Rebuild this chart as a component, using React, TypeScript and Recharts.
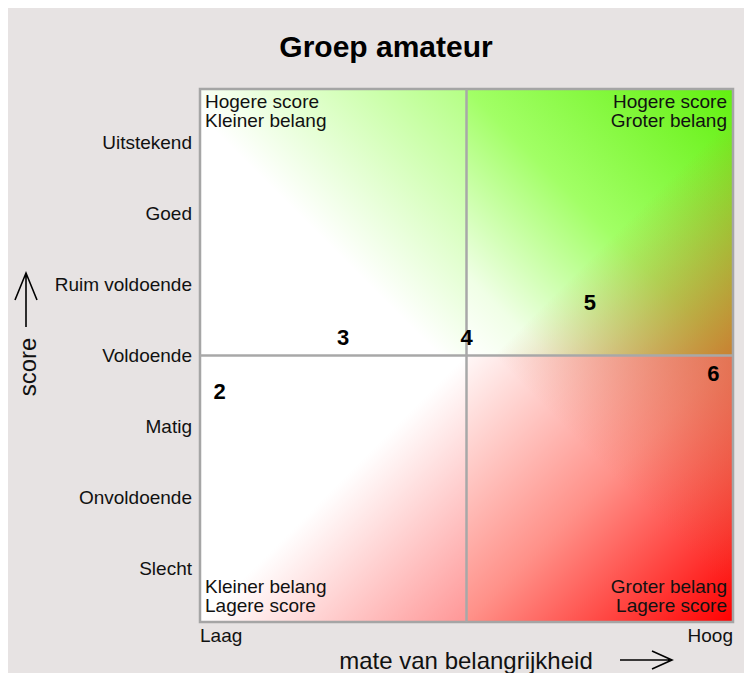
import React from 'react';
import {
  ScatterChart, Scatter, XAxis, YAxis, ReferenceArea, ReferenceLine,
} from 'recharts';

const FONT = '"Liberation Sans", Arial, Helvetica, sans-serif';

// data
const pointLabels = ['2', '3', '4', '5', '6'];
const importance = [2, 3, 4, 5, 6];
const score = [3.5, 4.25, 4.25, 4.75, 3.75];

const scoreTicks = [1, 2, 3, 4, 5, 6, 7];
const scoreLabels = ['Slecht', 'Onvoldoende', 'Matig', 'Voldoende', 'Ruim voldoende', 'Goed', 'Uitstekend'];

const importanceTicks = [1.84, 6.16];
const importanceLabels = ['Laag', 'Hoog'];

const xDomain = [1.84, 6.16];
const yDomain = [0.25, 7.75];
const xMid = 4;
const yMid = 4;

const textTL = ['Hogere score', 'Kleiner belang'];
const textTR = ['Hogere score', 'Groter belang'];
const textBL = ['Kleiner belang', 'Lagere score'];
const textBR = ['Groter belang', 'Lagere score'];

const data = importance.map((x, i) => ({ x, y: score[i], label: pointLabels[i] }));

function QuadLabel({ viewBox, lines, corner }: any) {
  if (!viewBox) return null;
  const { x, y, width, height } = viewBox;
  const right = corner.endsWith('r');
  const top = corner.startsWith('t');
  const tx = right ? x + width - 6 : x + 5;
  const y0 = top ? y + 19 : y + height - 29;
  return (
    <text textAnchor={right ? 'end' : 'start'} fontSize={19} fill="#111" fontFamily={FONT}>
      {lines.map((l: string, i: number) => (
        <tspan key={i} x={tx} y={y0 + i * 19}>{l}</tspan>
      ))}
    </text>
  );
}

function NumberMark({ cx, cy, payload }: any) {
  return (
    <text x={cx} y={cy} textAnchor="middle" dominantBaseline="central"
      fontSize={22} fontWeight="bold" fill="#000" fontFamily={FONT}>
      {payload.label}
    </text>
  );
}

function XTick({ x, y, payload, index }: any) {
  const i = importanceTicks.indexOf(payload.value);
  return (
    <text x={x} y={y - 1} dy="0.71em" textAnchor={index === 0 ? 'start' : 'end'}
      fontSize={19} fill="#111" fontFamily={FONT}>
      {importanceLabels[i]}
    </text>
  );
}

function XTitle() {
  return (
    <g>
      <text x={458} y={652} textAnchor="middle" dominantBaseline="central" fontSize={24} fill="#111" fontFamily={FONT}>
        mate van belangrijkheid
      </text>
      <path d="M612,652 H664 M644,643 L664,652 L644,661" stroke="#000" strokeWidth={1.6} fill="none" />
    </g>
  );
}

function YTitle() {
  return (
    <g>
      <text x={19} y={359} transform="rotate(-90 19 359)" textAnchor="middle" dominantBaseline="central"
        fontSize={24} fill="#111" fontFamily={FONT}>
        score
      </text>
      <path d="M18,319 V265 M7,292 L18,265 L29,292" stroke="#000" strokeWidth={1.6} fill="none" />
    </g>
  );
}

export default function App() {
  return (
    <div style={{ position: 'relative', width: 744, height: 665, background: '#e7e3e3', fontFamily: FONT }}>
      <div style={{
        position: 'absolute', left: 0, top: 21, width: 756, textAlign: 'center',
        fontSize: 30, fontWeight: 'bold', lineHeight: '36px', color: '#000',
      }}>
        Groep amateur
      </div>
      <ScatterChart width={744} height={665} margin={{ top: 81, right: 19, bottom: 0, left: 0 }}>
        <defs>
          <linearGradient id="gTL" x1="0" y1="1" x2="1" y2="0">
            <stop offset="0" stopColor="#ffffff" />
            <stop offset="0.45" stopColor="#ffffff" />
            <stop offset="1" stopColor="#b4ff84" />
          </linearGradient>
          <linearGradient id="gTR" x1="0" y1="1" x2="1" y2="0">
            <stop offset="0" stopColor="#ffffff" />
            <stop offset="0.15" stopColor="#f0ffe6" />
            <stop offset="0.5" stopColor="#a2ff66" />
            <stop offset="1" stopColor="#62f010" />
          </linearGradient>
          <linearGradient id="oTR" x1="0" y1="0" x2="1" y2="1">
            <stop offset="0.55" stopColor="#d06a28" stopOpacity={0} />
            <stop offset="1" stopColor="#d06a28" stopOpacity={0.85} />
          </linearGradient>
          <linearGradient id="gBL" x1="0" y1="0" x2="1" y2="1">
            <stop offset="0" stopColor="#ffffff" />
            <stop offset="0.5" stopColor="#ffffff" />
            <stop offset="1" stopColor="#ff9696" />
          </linearGradient>
          <linearGradient id="gBR" x1="0" y1="0" x2="1" y2="1">
            <stop offset="0" stopColor="#fff8f8" />
            <stop offset="0.5" stopColor="#ff9088" />
            <stop offset="1" stopColor="#ff0000" />
          </linearGradient>
          <linearGradient id="oBR" x1="0" y1="1" x2="1" y2="0">
            <stop offset="0.55" stopColor="#d06030" stopOpacity={0} />
            <stop offset="1" stopColor="#d06030" stopOpacity={0.6} />
          </linearGradient>
        </defs>
        <XAxis type="number" dataKey="x" domain={xDomain} ticks={importanceTicks} interval={0}
          tick={<XTick />} tickLine={false} axisLine={false} height={51} label={<XTitle />} />
        <YAxis type="number" dataKey="y" domain={yDomain} ticks={scoreTicks} interval={0}
          tickFormatter={(v: number) => scoreLabels[scoreTicks.indexOf(v)]}
          tick={{ fontSize: 19, fill: '#111', fontFamily: FONT }}
          tickLine={false} axisLine={false} width={192} label={<YTitle />} />

        <ReferenceArea x1={xDomain[0]} x2={xMid} y1={yMid} y2={yDomain[1]} fill="url(#gTL)" fillOpacity={1} stroke="none"
          label={<QuadLabel lines={textTL} corner="tl" />} />
        <ReferenceArea x1={xMid} x2={xDomain[1]} y1={yMid} y2={yDomain[1]} fill="url(#gTR)" fillOpacity={1} stroke="none" />
        <ReferenceArea x1={xMid} x2={xDomain[1]} y1={yMid} y2={yDomain[1]} fill="url(#oTR)" fillOpacity={1} stroke="none"
          label={<QuadLabel lines={textTR} corner="tr" />} />
        <ReferenceArea x1={xDomain[0]} x2={xMid} y1={yDomain[0]} y2={yMid} fill="url(#gBL)" fillOpacity={1} stroke="none"
          label={<QuadLabel lines={textBL} corner="bl" />} />
        <ReferenceArea x1={xMid} x2={xDomain[1]} y1={yDomain[0]} y2={yMid} fill="url(#gBR)" fillOpacity={1} stroke="none" />
        <ReferenceArea x1={xMid} x2={xDomain[1]} y1={yDomain[0]} y2={yMid} fill="url(#oBR)" fillOpacity={1} stroke="none"
          label={<QuadLabel lines={textBR} corner="br" />} />

        <ReferenceLine x={xMid} stroke="#a8a8a8" strokeWidth={2.5} />
        <ReferenceLine y={yMid} stroke="#a8a8a8" strokeWidth={2.5} />
        <ReferenceArea x1={xDomain[0]} x2={xDomain[1]} y1={yDomain[0]} y2={yDomain[1]}
          fill="none" stroke="#a5a5a5" strokeWidth={2.5} />

        <Scatter data={data} isAnimationActive={false} shape={<NumberMark />} />
      </ScatterChart>
    </div>
  );
}
